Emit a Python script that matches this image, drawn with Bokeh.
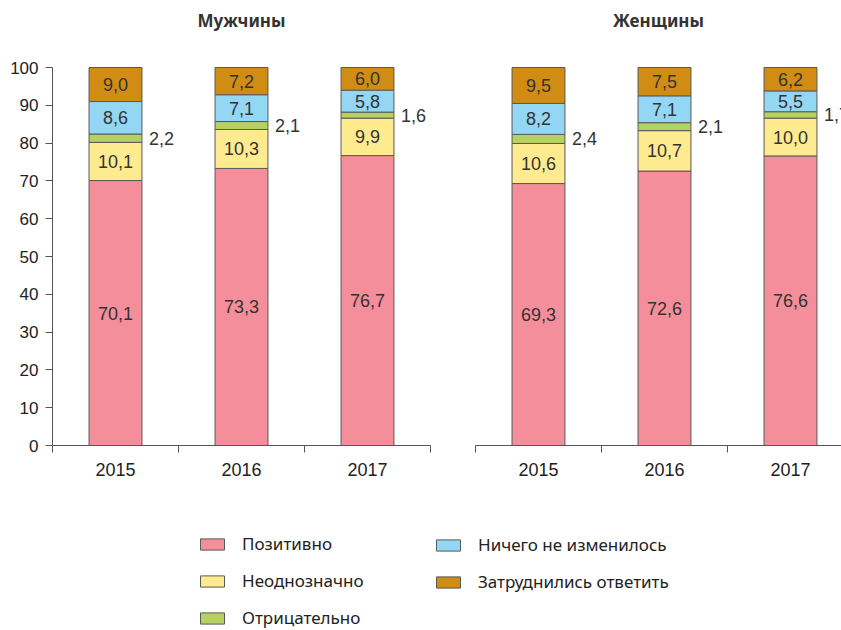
from bokeh.plotting import figure
from bokeh.models import ColumnDataSource, Range1d, FixedTicker, Legend, LegendItem
from bokeh.layouts import row, column
from bokeh.embed import file_html
from bokeh.resources import INLINE
from bokeh.core.properties import value

years = ["2015", "2016", "2017"]
categories = ["Позитивно", "Неоднозначно", "Отрицательно",
              "Ничего не изменилось", "Затруднились ответить"]

men_positive = [70.1, 73.3, 76.7]
men_ambiguous = [10.1, 10.3, 9.9]
men_negative = [2.2, 2.1, 1.6]
men_nothing = [8.6, 7.1, 5.8]
men_unsure = [9.0, 7.2, 6.0]

women_positive = [69.3, 72.6, 76.6]
women_ambiguous = [10.6, 10.7, 10.0]
women_negative = [2.4, 2.1, 1.7]
women_nothing = [8.2, 7.1, 5.5]
women_unsure = [9.5, 7.5, 6.2]

y_ticks = [0, 10, 20, 30, 40, 50, 60, 70, 80, 90, 100]

colors = ["#F48E9A", "#FFEB8F", "#B6D160", "#94D7F5", "#D08C13"]
EDGE = "#595959"
AX = "#555555"
NUM_FONT = "Liberation Sans"
TXT_FONT = "Noto Sans"
CAT_PX = 126      # pixel width of one year slot
PX_PER_100 = 378  # pixel height of the 0..100 scale
TOP_BORDER = 36
BOTTOM_BORDER = 35
FIG_H = 480


def fmt(v):
    return f"{v:.1f}".replace(".", ",")


def panel(title, series, width, border_left, border_right, show_y):
    frame_w = width - border_left - border_right
    frame_h = FIG_H - TOP_BORDER - BOTTOM_BORDER
    p = figure(width=width, height=FIG_H, x_range=Range1d(0, frame_w / CAT_PX),
               y_range=Range1d(0, 100 * frame_h / PX_PER_100),
               output_backend="svg", toolbar_location=None,
               min_border_left=border_left, min_border_right=border_right,
               min_border_top=TOP_BORDER, min_border_bottom=BOTTOM_BORDER,
               y_axis_location="left" if show_y else None)
    xs = [i + 0.5 for i in range(len(years))]
    bw = 0.42
    bottom = [0.0] * len(years)
    for k, (vals, col) in enumerate(zip(series, colors)):
        top = [b + v for b, v in zip(bottom, vals)]
        src = ColumnDataSource(dict(x=xs, bottom=bottom, top=top,
                                    mid=[(b + t) / 2 for b, t in zip(bottom, top)],
                                    xr=[x + bw / 2 for x in xs],
                                    lab=[fmt(v) for v in vals]))
        p.vbar(x="x", bottom="bottom", top="top", width=bw, source=src,
               fill_color=col, line_color=EDGE, line_width=1)
        if k == 2:
            p.text(x="xr", y="mid", text="lab", source=src, x_offset=7,
                   text_align="left", text_baseline="middle",
                   text_font=value(NUM_FONT), text_font_size="18px", text_color="#333333")
        else:
            p.text(x="x", y="mid", text="lab", source=src,
                   text_align="center", text_baseline="middle",
                   text_font=value(NUM_FONT), text_font_size="18px", text_color="#333333")
        bottom = top

    p.title.text = title
    p.title.align = "center"
    p.title.text_font = TXT_FONT
    p.title.text_font_size = "17px"
    p.title.text_font_style = "bold"
    p.title.text_color = "#333333"
    p.title.standoff = 10

    xa = p.xaxis[0]
    xa.ticker = FixedTicker(ticks=xs, minor_ticks=[0, 1, 2, 3])
    xa.major_label_overrides = {x: y for x, y in zip(xs, years)}
    xa.major_tick_line_color = None
    xa.minor_tick_out = 7
    xa.minor_tick_in = 0
    xa.minor_tick_line_color = AX
    xa.axis_line_color = AX
    xa.major_label_standoff = 10
    xa.major_label_text_font = NUM_FONT
    xa.major_label_text_font_size = "18px"
    xa.major_label_text_color = "#222222"

    if show_y:
        ya = p.yaxis[0]
        ya.ticker = FixedTicker(ticks=y_ticks)
        ya.bounds = (0, 100)
        ya.minor_tick_line_color = None
        ya.major_tick_out = 7
        ya.major_tick_in = 0
        ya.major_tick_line_color = AX
        ya.axis_line_color = AX
        ya.major_label_standoff = 7
        ya.major_label_text_font = NUM_FONT
        ya.major_label_text_font_size = "17px"
        ya.major_label_text_color = "#222222"

    p.grid.visible = False
    p.outline_line_color = None
    return p


men = [men_positive, men_ambiguous, men_negative, men_nothing, men_unsure]
women = [women_positive, women_ambiguous, women_negative, women_nothing, women_unsure]

p1 = panel("Мужчины", men, 440, 52, 10, True)
p2 = panel("Женщины", women, 401, 35, 0, False)

# legend figure
pl = figure(width=841, height=150, x_range=Range1d(0, 1), y_range=Range1d(0, 1),
            output_backend="svg", toolbar_location=None, min_border=0,
            x_axis_location=None, y_axis_location=None)
pl.grid.visible = False
pl.outline_line_color = None
items = []
for cat, col in zip(categories, colors):
    # swatch-only renderer, placed outside the visible range
    r = pl.vbar(x=[5], top=[5], bottom=[4], width=0.1, fill_color=col,
                line_color=EDGE, line_width=1)
    items.append(LegendItem(label=cat, renderers=[r]))


def make_legend(its, loc):
    lg = Legend(items=its, location=loc, orientation="vertical",
                glyph_width=30, glyph_height=14, label_standoff=15, spacing=14,
                padding=0, margin=0, border_line_color=None, background_fill_alpha=0,
                label_text_font=TXT_FONT, label_text_font_size="17px",
                label_text_color="#222222")
    pl.add_layout(lg, "center")


make_legend(items[:3], (197, 1))
make_legend(items[3:], (433, 37))

layout = column(row(p1, p2), pl)

open("out.html", "w").write(file_html(layout, INLINE))
